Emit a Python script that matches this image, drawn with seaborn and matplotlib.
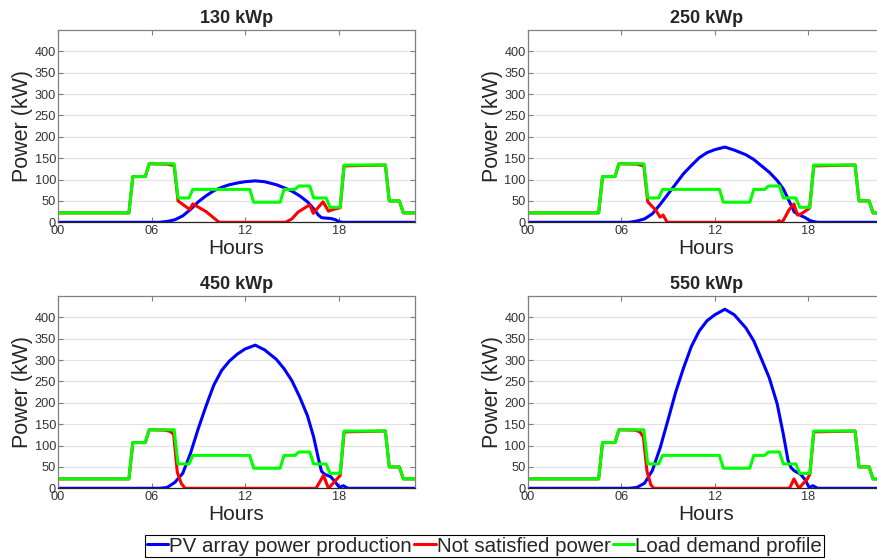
import numpy as np
import pandas as pd
import matplotlib
matplotlib.use("Agg")
import matplotlib.pyplot as plt
import seaborn as sns
from matplotlib.lines import Line2D

# ---------------- data ----------------
panel_titles = ["130 kWp", "250 kWp", "450 kWp", "550 kWp"]
series_names = ["PV array power production", "Not satisfied power", "Load demand profile"]
x_ticks = [0, 6, 12, 18]
x_tick_labels = ["00", "06", "12", "18"]
y_ticks = [0, 50, 100, 150, 200, 250, 300, 350, 400]

# load demand profile (same in every panel)
load_hours = [0, 4.55, 4.8, 5.6, 5.85, 7.45, 7.7, 8.4, 8.65, 12.3, 12.55, 14.25, 14.5,
              15.2, 15.45, 16.15, 16.4, 17.2, 17.45, 18.1, 18.35, 21.0, 21.25, 21.9, 22.15, 23]
load_kw = [22, 22, 107, 107, 137, 137, 57, 57, 77, 77, 47, 47, 77,
           77, 85, 85, 57, 57, 35, 35, 134, 134, 50, 50, 22, 22]

# PV production
pv_hours = [0, 6.5, 7.0, 7.5, 8.0, 8.5, 9.0, 9.5, 10.0, 10.5, 11.0, 11.5, 12.0, 12.65,
            13.25, 14.0, 14.5, 15.0, 15.5, 16.0, 16.4, 16.7, 16.9, 17.1, 17.5, 17.8,
            18.05, 18.3, 18.6, 23]
pv_130 = [0, 0, 2, 6, 15, 30, 48, 62, 74, 82, 88, 92, 95, 97,
          95, 88, 81, 73, 62, 48, 32, 17, 11, 10, 9, 6, 1, 0, 0, 0]
pv_250 = [0, 0, 3, 8, 20, 42, 66, 90, 114, 133, 151, 163, 170, 176,
          169, 158, 147, 132, 117, 98, 78, 55, 40, 24, 16, 11, 5, 2, 0, 0]
pv_450 = [0, 0, 2, 14, 35, 82, 140, 193, 242, 276, 298, 314, 326, 335,
          324, 302, 280, 252, 214, 170, 120, 70, 40, 33, 27, 14, 2, 6, 0, 0]
pv_550 = [0, 0, 2, 12, 42, 95, 160, 226, 282, 332, 368, 392, 406, 419,
          406, 375, 345, 302, 258, 198, 126, 65, 48, 41, 33, 20, 2, 6, 0, 0]

# not satisfied power
ns_130_hours = [0, 4.55, 4.8, 5.6, 5.85, 7.0, 7.45, 7.7, 8.45, 8.65, 9.5, 10.3, 10.5, 14.6,
                15.0, 15.4, 16.15, 16.37, 17.0, 17.35, 17.65, 18.1, 18.35, 21.0, 21.25,
                21.9, 22.15, 23]
ns_130 = [22, 22, 107, 107, 137, 136, 133, 50, 30, 43, 25, 1, 0, 0,
          8, 24, 41, 21, 48, 26, 30, 34, 132, 134, 50, 50, 22, 22]
ns_250_hours = [0, 4.55, 4.8, 5.6, 5.85, 7.0, 7.45, 7.7, 8.2, 8.5, 8.68, 8.95, 16.0, 16.12,
                16.33, 16.76, 17.08, 17.3, 17.51, 18.08, 18.35, 21.0, 21.25, 21.9, 22.15, 23]
ns_250 = [22, 22, 107, 107, 137, 136, 132, 48, 29, 12, 17, 0, 0, 4,
          0, 29, 43, 17, 19, 33, 132, 134, 50, 50, 22, 22]
ns_450_hours = [0, 4.55, 4.8, 5.6, 5.85, 6.9, 7.2, 7.42, 7.65, 7.9, 8.15, 16.55, 17.03,
                17.35, 18.1, 18.35, 21.0, 21.25, 21.9, 22.15, 23]
ns_450 = [22, 22, 107, 107, 137, 136, 133, 126, 38, 12, 0, 0, 30,
          0, 30, 132, 134, 50, 50, 22, 22]
ns_550_hours = [0, 4.55, 4.8, 5.6, 5.85, 6.9, 7.2, 7.42, 7.65, 7.9, 8.1, 16.8, 17.08,
                17.4, 17.94, 18.1, 18.35, 21.0, 21.25, 21.9, 22.15, 23]
ns_550 = [22, 22, 107, 107, 137, 136, 132, 120, 40, 8, 0, 0, 22,
          0, 22, 33, 132, 134, 50, 50, 22, 22]

pv_list = [pv_130, pv_250, pv_450, pv_550]
ns_hours_list = [ns_130_hours, ns_250_hours, ns_450_hours, ns_550_hours]
ns_list = [ns_130, ns_250, ns_450, ns_550]

# ---------------- style ----------------
sns.set_style("ticks")
plt.rcParams['font.family'] = ['Liberation Sans', 'DejaVu Sans']
colors = ["#0000ff", "#ff0000", "#00ff00"]

fig = plt.figure(figsize=(8.78, 5.60), dpi=100)
W, H = 878, 560
positions = [(58, 30), (527.7, 30), (58, 296), (527.7, 296)]
aw, ah = 357, 192.3

for i, (px, py) in enumerate(positions):
    ax = fig.add_axes([px / W, 1 - (py + ah) / H, aw / W, ah / H])
    df_pv = pd.DataFrame({"h": pv_hours, "kw": pv_list[i]})
    df_ns = pd.DataFrame({"h": ns_hours_list[i], "kw": ns_list[i]})
    df_ld = pd.DataFrame({"h": load_hours, "kw": load_kw})
    sns.lineplot(data=df_pv, x="h", y="kw", ax=ax, color=colors[0], lw=2.2,
                 estimator=None, sort=False, legend=False)
    sns.lineplot(data=df_ns, x="h", y="kw", ax=ax, color=colors[1], lw=2.2,
                 estimator=None, sort=False, legend=False)
    sns.lineplot(data=df_ld, x="h", y="kw", ax=ax, color=colors[2], lw=2.2,
                 estimator=None, sort=False, legend=False)
    ax.set_xlim(0, 22.9)
    ax.set_ylim(0, 450)
    ax.set_xticks(x_ticks)
    ax.set_xticklabels(x_tick_labels)
    ax.set_yticks(y_ticks)
    ax.yaxis.grid(True, color="#e3e3e3", lw=0.9)
    ax.set_axisbelow(True)
    ax.tick_params(direction="in", length=3.5, width=0.8, colors="#7f7f7f",
                   labelcolor="#333333", labelsize=9.2, top=True, right=True)
    ax.tick_params(axis="y", pad=1.5)
    ax.tick_params(axis="x", pad=2.2)
    for s in ax.spines.values():
        s.set_visible(True)
        s.set_color("#808080")
        s.set_linewidth(0.9)
    ax.spines["bottom"].set_color("#262626")
    ax.set_xlabel("Hours", fontsize=15, color="#262626", labelpad=1)
    ax.set_ylabel("Power (kW)", fontsize=15.5, color="#262626", labelpad=1)
    ax.set_title(panel_titles[i], fontsize=13, fontweight="bold", pad=5)

handles = [Line2D([0], [0], color=c, lw=2.2) for c in colors]
leg = fig.legend(handles, series_names, loc="center",
                 bbox_to_anchor=(484.5 / W, 1 - 546 / H), ncol=3, fontsize=14.8,
                 frameon=True, fancybox=False, edgecolor="black", framealpha=1,
                 borderpad=0.08, handlelength=1.05, handletextpad=0.05,
                 columnspacing=0.1, borderaxespad=0)
leg.get_frame().set_linewidth(0.8)

fig.savefig("out.png", dpi=100)
